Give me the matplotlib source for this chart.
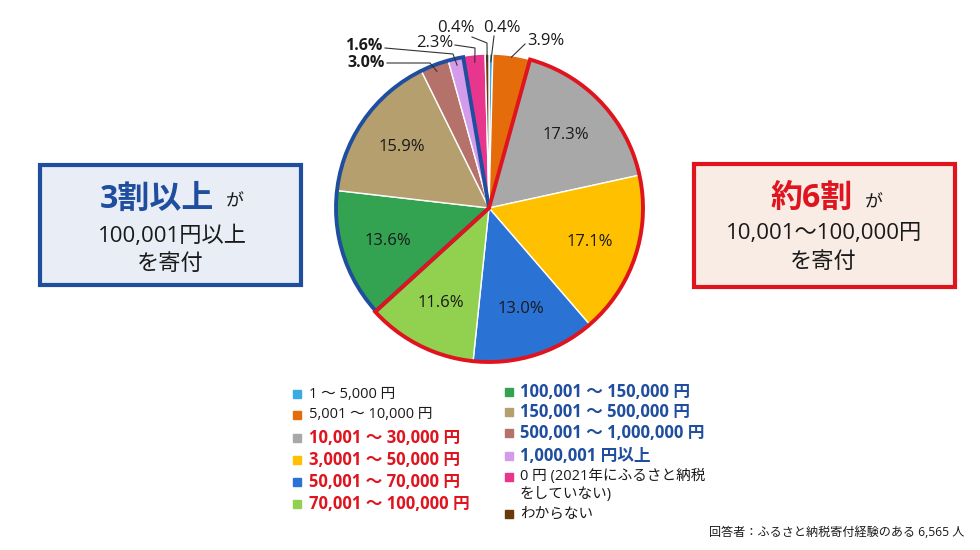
"""
ふるさと納税 寄付額の分布 (pie)
"""
import numpy as np
import matplotlib
matplotlib.use('Agg')
import matplotlib.pyplot as plt
from matplotlib.patches import Wedge, Rectangle

plt.rcParams['font.family'] = ['Open Sans', 'Noto Sans CJK JP', 'DejaVu Sans']

# data, clockwise from 12 o'clock
categories = ['1 ～ 5,000 円', '5,001 ～ 10,000 円', '10,001 ～ 30,000 円',
              '3,0001 ～ 50,000 円', '50,001 ～ 70,000 円', '70,001 ～ 100,000 円',
              '100,001 ～ 150,000 円', '150,001 ～ 500,000 円',
              '500,001 ～ 1,000,000 円', '1,000,001 円以上',
              '0 円 (2021年にふるさと納税\nをしていない)', 'わからない']
values = [0.4, 3.9, 17.3, 17.1, 13.0, 11.6, 13.6, 15.9, 3.0, 1.6, 2.3, 0.4]
colors = ['#3aaae6', '#e46c0a', '#a8a8a8', '#ffc000', '#2a72d4', '#92d050',
          '#33a352', '#b59f6e', '#b5726a', '#d39be9', '#e8368e', '#6b3a0c']
red_group = [2, 3, 4, 5]      # 10,001 ~ 100,000
blue_group = [6, 7, 8, 9]     # 100,001 ~
inside = [2, 3, 4, 5, 6, 7]   # labels drawn inside the pie

RED = '#e0141e'
BLUE = '#1f4e9f'
INK = '#1a1a1a'
H = 550


def Y(y):
    return H - y


fig = plt.figure(figsize=(9.8, 5.5), dpi=100)
ax = fig.add_axes([0, 0, 1, 1])

cx, cy, R = 489, Y(208), 154
ax.pie(values, colors=colors, startangle=90, counterclock=False,
       center=(cx, cy), radius=R,
       wedgeprops={'edgecolor': 'white', 'linewidth': 1})
ax.set_xlim(0, 980)
ax.set_ylim(0, 550)
ax.axis('off')

total = sum(values)
cum = np.concatenate([[0], np.cumsum(values)]) / total
ang = 90 - 360 * cum   # boundary angles


def mid(i):
    return np.deg2rad((ang[i] + ang[i + 1]) / 2)


def outline(group, color, r):
    a_start = ang[group[0]]
    a_end = ang[group[-1] + 1]
    ax.add_patch(Wedge((cx, cy), r, a_end, a_start, fill=False,
                       edgecolor=color, linewidth=2.8, zorder=5))


outline(blue_group, BLUE, R - 1)
outline(red_group, RED, R)

# inside labels
for i in inside:
    t = mid(i)
    ax.text(cx + 0.69 * R * np.cos(t), cy + 0.69 * R * np.sin(t),
            f'{values[i]:.1f}%', ha='center', va='center', fontsize=12,
            color=INK, zorder=6)

# outside labels: index, text centre, leader points (in px from top), radius, bold
outside = [(1, (546, 41), [(525, 44)], 0.99, False),
           (0, (502, 28), [(494, 36)], 0.95, False),
           (11, (456, 28), [(472, 37), (487, 43)], 0.95, False),
           (10, (435, 43), [(455, 45), (475, 48)], 0.95, False),
           (9, (364, 46), [(385, 48), (453, 54)], 0.95, True),
           (8, (366, 63), [(387, 63), (430, 63)], 0.95, True)]
for i, (tx, ty), pts, rr, bold in outside:
    t = mid(i)
    xs = [p[0] for p in pts] + [cx + rr * R * np.cos(t)]
    ys = [Y(p[1]) for p in pts] + [cy + rr * R * np.sin(t)]
    ax.plot(xs, ys, color='#333333', lw=0.8, zorder=6)
    ax.text(tx, Y(ty), f'{values[i]:.1f}%', ha='center', va='center',
            fontsize=11.5 if bold else 12, color=INK,
            fontweight='bold' if bold else 'normal')

# callout boxes
ax.add_patch(Rectangle((40, Y(285)), 261, 120, facecolor='#e8edf6',
                       edgecolor=BLUE, linewidth=3))
ax.text(157, Y(199), '3割以上', ha='center', va='center', fontsize=23,
        fontweight='bold', color=BLUE)
ax.text(235, Y(202), 'が', ha='center', va='center', fontsize=13, color=INK)
ax.text(172, Y(236), '100,001円以上', ha='center', va='center',
        fontsize=16, color=INK)
ax.text(170, Y(264), 'を寄付', ha='center', va='center', fontsize=16,
        color=INK)

ax.add_patch(Rectangle((694, Y(287)), 261, 123, facecolor='#f8ece4',
                       edgecolor=RED, linewidth=3))
ax.text(812, Y(198), '約6割', ha='center', va='center', fontsize=23,
        fontweight='bold', color=RED)
ax.text(874, Y(203), 'が', ha='center', va='center', fontsize=13, color=INK)
ax.text(824, Y(233), '10,001～100,000円', ha='center', va='center',
        fontsize=16, color=INK)
ax.text(823, Y(262), 'を寄付', ha='center', va='center', fontsize=16,
        color=INK)

# legend
left_y = [394, 415, 438, 460, 482, 504]
right_y = [392, 412, 433, 456, 477, 514]
for k, i in enumerate(range(6)):
    y = left_y[k]
    ax.add_patch(Rectangle((293, Y(y) - 4), 8, 8, color=colors[i]))
    big = i in red_group
    ax.text(309, Y(y), categories[i], ha='left', va='center',
            fontsize=12 if big else 10.5,
            fontweight='bold' if big else 'normal',
            color=RED if big else INK)
for k, i in enumerate(range(6, 12)):
    y = right_y[k]
    ax.add_patch(Rectangle((505, Y(y) - 4), 8, 8, color=colors[i]))
    big = i in blue_group
    if i == 10:
        # two-line entry, first line centred on the marker
        ax.text(520, Y(y) + 8, categories[i], ha='left', va='top',
                fontsize=10.5, color=INK, linespacing=1.25)
        continue
    ax.text(520, Y(y), categories[i], ha='left', va='center',
            fontsize=12 if big else 10.5,
            fontweight='bold' if big else 'normal',
            color=BLUE if big else INK)

ax.text(964, Y(533), '回答者：ふるさと納税寄付経験のある 6,565 人', ha='right',
        va='center', fontsize=8.7, color=INK)

plt.savefig('out.png', dpi=100)
plt.close()
